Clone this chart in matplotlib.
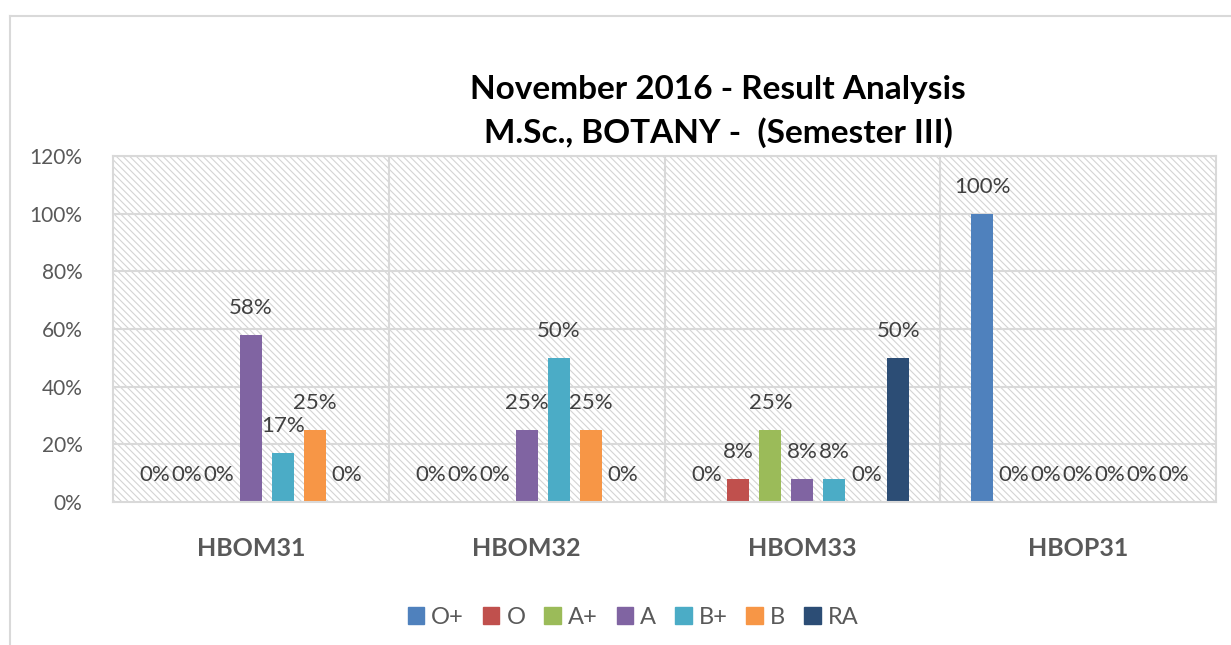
import matplotlib
matplotlib.use("Agg")
import matplotlib.pyplot as plt
import numpy as np
from matplotlib.patches import Rectangle
from matplotlib.lines import Line2D

plt.rcParams['font.family'] = ['Lato', 'DejaVu Sans']
plt.rcParams['hatch.linewidth'] = 0.8
plt.rcParams['hatch.color'] = '#d4d4d4'

subjects = ["HBOM31", "HBOM32", "HBOM33", "HBOP31"]
grades = ["O+", "O", "A+", "A", "B+", "B", "RA"]
colors = ["#4f81bd", "#c0504d", "#9bbb59", "#8064a2", "#4bacc6", "#f79646", "#2c4d75"]

pct_o_plus = [0, 0, 0, 100]
pct_o = [0, 0, 8, 0]
pct_a_plus = [0, 0, 25, 0]
pct_a = [58, 25, 8, 0]
pct_b_plus = [17, 50, 8, 0]
pct_b = [25, 25, 0, 0]
pct_ra = [0, 0, 50, 0]
series = [pct_o_plus, pct_o, pct_a_plus, pct_a, pct_b_plus, pct_b, pct_ra]

W, H = 1231, 645
fig = plt.figure(figsize=(W / 100, H / 100), dpi=100)

# outer chart border (left and top edges visible)
fig.add_artist(Line2D([10 / W, 10 / W], [0, 1 - 16 / H], transform=fig.transFigure,
                      color='#d9d9d9', lw=1.5))
fig.add_artist(Line2D([10 / W, 1], [1 - 16 / H, 1 - 16 / H], transform=fig.transFigure,
                      color='#d9d9d9', lw=1.5))

ax = fig.add_axes([113 / W, (H - 502) / H, (1216 - 113) / W, (502 - 156) / H])
ax.set_xlim(-0.5, 3.5)
ax.set_ylim(0, 120)

# hatched plot-area background
ax.add_patch(Rectangle((0, 0), 1, 1, transform=ax.transAxes, facecolor='white',
                       edgecolor='#d4d4d4', hatch='\\\\\\\\\\', lw=0, zorder=0))

for y in range(20, 121, 20):
    ax.axhline(y, color='#d9d9d9', lw=1.5, zorder=1)
for xb in [0.5, 1.5, 2.5]:
    ax.axvline(xb, color='#d9d9d9', lw=1.5, zorder=1)

step = 0.116
bw = 0.08
x = np.arange(len(subjects))
for i, (g, vals, c) in enumerate(zip(grades, series, colors)):
    pos = x + (i - 3) * step
    ax.bar(pos, vals, width=bw, color=c, label=g, zorder=2)
    for px, v in zip(pos, vals):
        ax.text(px, v + 9.3, f"{v}%", ha='center', va='center',
                fontsize=16, color='#404040', zorder=3)

for s in ['top', 'left', 'right', 'bottom']:
    ax.spines[s].set_color('#d9d9d9')
    ax.spines[s].set_linewidth(1.5)

ax.set_xticks(x)
ax.set_xticklabels(subjects, fontsize=18, fontweight='bold', color='#595959')
ax.tick_params(axis='x', length=0, pad=25)
ax.set_yticks(range(0, 121, 20))
ax.set_yticklabels([f"{v}%" for v in range(0, 121, 20)], fontsize=15, color='#595959')
ax.tick_params(axis='y', length=0, pad=22)

fig.text(718 / W, 1 - 90 / H, "November 2016 - Result Analysis", ha='center', va='center',
         fontsize=24, fontweight='bold', color='black')
fig.text(718 / W, 1 - 133 / H, "M.Sc., BOTANY -  (Semester III)", ha='center', va='center',
         fontsize=24, fontweight='bold', color='black')

handles = [Rectangle((0, 0), 1, 1, color=c) for c in colors]
fig.legend(handles, grades, loc='center', bbox_to_anchor=(633 / W, 1 - 617 / H), ncol=7,
           frameon=False, fontsize=17, handlelength=0.7, handleheight=0.7,
           handletextpad=0.3, columnspacing=0.8, labelcolor='#595959')

fig.savefig("out.png", dpi=100)
